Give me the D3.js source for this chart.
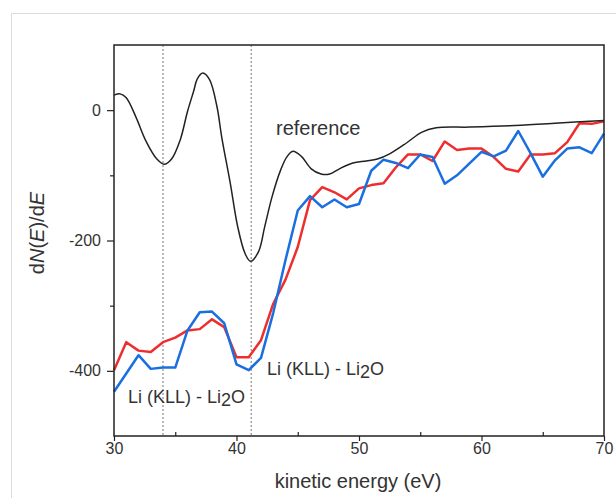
<!DOCTYPE html>
<html>
<head>
<meta charset="utf-8">
<script src="https://cdn.jsdelivr.net/npm/d3@7"></script>
<style>
  body { margin: 0; background: #fff; }
  #chart { width: 616px; height: 498px; }
  text { font-family: "Liberation Sans", Arial, sans-serif; fill: #333; }
</style>
</head>
<body>
<div id="chart"></div>
<script>
// reference spectrum (smooth)
var refE = [30, 30.5, 31, 31.8, 32.6, 33.5, 34.1, 34.7, 35.4, 36, 36.5, 36.8, 37.25, 37.8, 38.4, 38.8, 39.5, 40.1, 40.7, 41.15, 41.8, 42.3, 42.9, 43.6, 44.1, 44.6, 45.3, 46.1, 46.9, 47.6, 48.4, 49.5, 50.6, 51.5, 52.5, 53.9, 55.1, 56.3, 59, 62.3, 66, 70];
var refV = [23, 25, 19, -11, -47, -75, -83, -75, -46, -2, 29, 48, 57, 47, 6, -42, -113, -179, -220, -232, -217, -179, -133, -92, -72, -63, -71, -90, -98, -98, -90, -81, -78, -75, -67, -50, -34, -27, -26, -24, -20, -16];

// measured spectra, one point per eV
var energy = d3.range(30, 71);
var redV = [-399, -356, -369, -371, -356, -349, -338, -336, -321, -333, -379, -379, -353, -297, -260, -210, -138, -118, -126, -137, -120, -115, -112, -88, -68, -68, -78, -48, -61, -59, -59, -72, -90, -94, -68, -68, -66, -49, -20, -21, -17];
var blueV = [-432, -404, -376, -397, -395, -395, -338, -310, -309, -327, -390, -399, -380, -311, -230, -154, -132, -149, -137, -149, -144, -93, -76, -81, -89, -68, -72, -113, -100, -82, -64, -71, -62, -32, -66, -102, -77, -59, -57, -66, -36];

var xTicks = [30, 40, 50, 60, 70];
var xMinor = [35, 45, 55, 65];
var yTicks = [0, -200, -400];
var yMinor = [-100, -300];
var markers = [34, 41.2];

var width = 616, height = 498;
var margin = {top: 45, left: 114, right: 12, bottom: 62};

var svg = d3.select("#chart").append("svg")
    .attr("width", width)
    .attr("height", height);

// light outer frame
svg.append("rect")
    .attr("x", 11.5).attr("y", 13.5)
    .attr("width", 700).attr("height", 600)
    .attr("fill", "none")
    .attr("stroke", "#dcdcdc");

var xScale = d3.scaleLinear()
    .domain([30, 70])
    .range([margin.left, width - margin.right]);

var yScale = d3.scaleLinear()
    .domain([-500, 100])
    .range([height - margin.bottom, margin.top]);

// dotted marker lines
svg.selectAll(".marker")
    .data(markers)
    .enter().append("line")
    .attr("class", "marker")
    .attr("x1", function(d) { return xScale(d); })
    .attr("x2", function(d) { return xScale(d); })
    .attr("y1", yScale(100))
    .attr("y2", yScale(-500))
    .attr("stroke", "#777")
    .attr("stroke-width", 1)
    .attr("stroke-dasharray", "2,2");

var refData = refE.map(function(e, i) { return {x: e, y: refV[i]}; });
var redData = energy.map(function(e, i) { return {x: e, y: redV[i]}; });
var blueData = energy.map(function(e, i) { return {x: e, y: blueV[i]}; });

var smooth = d3.line()
    .x(function(d) { return xScale(d.x); })
    .y(function(d) { return yScale(d.y); })
    .curve(d3.curveCatmullRom.alpha(0.5));

var straight = d3.line()
    .x(function(d) { return xScale(d.x); })
    .y(function(d) { return yScale(d.y); });

svg.append("path")
    .datum(redData)
    .attr("d", straight)
    .attr("fill", "none")
    .attr("stroke", "#ee2e2e")
    .attr("stroke-width", 2.5)
    .attr("stroke-linejoin", "round");

svg.append("path")
    .datum(blueData)
    .attr("d", straight)
    .attr("fill", "none")
    .attr("stroke", "#1a6fe0")
    .attr("stroke-width", 2.5)
    .attr("stroke-linejoin", "round");

svg.append("path")
    .datum(refData)
    .attr("d", smooth)
    .attr("fill", "none")
    .attr("stroke", "#222")
    .attr("stroke-width", 1.5);

// frame
svg.append("rect")
    .attr("x", xScale(30)).attr("y", yScale(100))
    .attr("width", xScale(70) - xScale(30))
    .attr("height", yScale(-500) - yScale(100))
    .attr("fill", "none")
    .attr("stroke", "#222")
    .attr("stroke-width", 1.5);

// axes
var fmt = function(d) { return String(d); };

var xAxis = svg.append("g")
    .attr("transform", `translate(0,${yScale(-500)})`)
    .call(d3.axisBottom(xScale).tickValues(xTicks).tickSize(5).tickPadding(2).tickFormat(fmt));

svg.append("g")
    .attr("transform", `translate(0,${yScale(-500)})`)
    .call(d3.axisBottom(xScale).tickValues(xMinor).tickSize(-4).tickFormat(""));

var yAxis = svg.append("g")
    .attr("transform", `translate(${xScale(30)},0)`)
    .call(d3.axisLeft(yScale).tickValues(yTicks).tickSize(7).tickPadding(6).tickFormat(fmt));

svg.append("g")
    .attr("transform", `translate(${xScale(30)},0)`)
    .call(d3.axisLeft(yScale).tickValues(yMinor).tickSize(4).tickFormat(""));

svg.selectAll(".domain").remove();
svg.selectAll(".tick line").attr("stroke", "#222").attr("stroke-width", 1.2);
svg.selectAll(".tick text")
    .style("font-size", "16px")
    .style("font-family", "'Liberation Sans', Arial, sans-serif")
    .attr("fill", "#333");

// axis labels
svg.append("text")
    .attr("x", 358)
    .attr("y", 488)
    .attr("text-anchor", "middle")
    .style("font-size", "20px")
    .text("kinetic energy (eV)");

var yLab = svg.append("text")
    .attr("transform", "translate(44,233) rotate(-90)")
    .attr("text-anchor", "middle")
    .style("font-size", "20px");
yLab.append("tspan").text("d");
yLab.append("tspan").style("font-style", "italic").text("N");
yLab.append("tspan").text("(");
yLab.append("tspan").style("font-style", "italic").text("E");
yLab.append("tspan").text(")/d");
yLab.append("tspan").style("font-style", "italic").text("E");

// annotations
svg.append("text")
    .attr("x", 276)
    .attr("y", 135)
    .style("font-size", "20px")
    .text("reference");

function liLabel(x, y) {
    var t = svg.append("text")
        .attr("x", x)
        .attr("y", y)
        .style("font-size", "18px");
    t.append("tspan").text("Li (KLL) - Li");
    t.append("tspan").attr("dy", 3).text("2");
    t.append("tspan").attr("dy", -3).text("O");
}
liLabel(128, 403);
liLabel(267, 375);
</script>
</body>
</html>
